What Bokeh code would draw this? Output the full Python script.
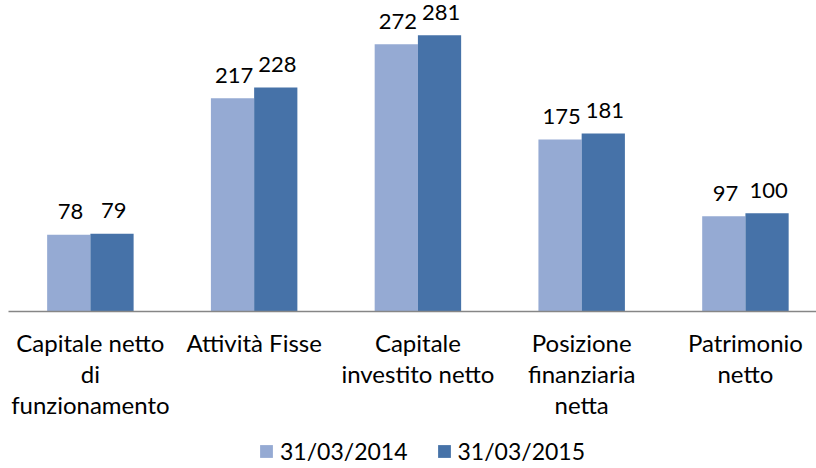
from bokeh.plotting import figure
from bokeh.models import ColumnDataSource, FixedTicker, Legend, LegendItem, Range1d
from bokeh.layouts import column
from bokeh.transform import dodge
from bokeh.core.properties import value
from bokeh.embed import file_html
from bokeh.resources import INLINE

categories = ["Capitale netto\ndi\nfunzionamento", "Attività Fisse", "Capitale\ninvestito netto",
              "Posizione\nfinanziaria\nnetta", "Patrimonio\nnetto"]
series_names = ["31/03/2014", "31/03/2015"]
values_2014 = [78, 217, 272, 175, 97]
values_2015 = [79, 228, 281, 181, 100]

FONT = "Lato"
C1 = "#95AAD3"
C2 = "#4672A8"

idx = list(range(len(categories)))
src = ColumnDataSource(dict(
    x=idx, v1=values_2014, v2=values_2015,
    t1=[str(v) for v in values_2014], t2=[str(v) for v in values_2015]))

p = figure(width=816, height=420, frame_width=808, frame_height=311,
           output_backend="svg", toolbar_location=None,
           x_range=Range1d(-0.5, 4.434), y_range=Range1d(0, 316.4),
           min_border_left=8, min_border_right=0, min_border_top=0, min_border_bottom=0)
p.outline_line_color = None
p.xgrid.visible = False
p.ygrid.visible = False
p.yaxis.visible = False

bw = 0.264
p.vbar(x=dodge("x", -bw / 2, range=p.x_range), top="v1", width=bw, source=src,
       fill_color=C1, line_color=None)
p.vbar(x=dodge("x", bw / 2, range=p.x_range), top="v2", width=bw, source=src,
       fill_color=C2, line_color=None)

p.text(x=dodge("x", -bw / 2 + 0.01, range=p.x_range), y="v1", text="t1", source=src,
       text_font=value(FONT), text_font_size="22px", text_align="center",
       text_baseline="alphabetic", y_offset=-23, text_color="#000000")
p.text(x=dodge("x", bw / 2 + 0.01, range=p.x_range), y="v2", text="t2", source=src,
       text_font=value(FONT), text_font_size="22px", text_align="center",
       text_baseline="alphabetic", y_offset=-23, text_color="#000000")

ax = p.xaxis[0]
ax.ticker = FixedTicker(ticks=idx)
ax.major_label_overrides = {i: c for i, c in enumerate(categories)}
ax.major_tick_line_color = None
ax.minor_tick_line_color = None
ax.axis_line_color = "#868686"
ax.axis_line_width = 1.5
ax.major_label_text_font = FONT
ax.major_label_text_font_size = "24px"
ax.major_label_text_color = "#000000"
ax.major_label_text_line_height = 1.08
ax.major_label_standoff = 10

lf = figure(width=816, height=48, output_backend="svg", toolbar_location=None,
            x_range=Range1d(0, 1), y_range=Range1d(0, 1),
            x_axis_location=None, y_axis_location=None,
            min_border_left=0, min_border_right=0, min_border_top=0, min_border_bottom=0)
lf.outline_line_color = None
lf.xgrid.visible = False
lf.ygrid.visible = False
lr1 = lf.vbar(x=[-5], top=[-5], width=0.1, fill_color=C1, line_color=None)
lr2 = lf.vbar(x=[-5], top=[-5], width=0.1, fill_color=C2, line_color=None)

legend = Legend(items=[LegendItem(label=series_names[0], renderers=[lr1]),
                       LegendItem(label=series_names[1], renderers=[lr2])],
                orientation="horizontal", location=(250, 5),
                label_text_font=FONT, label_text_font_size="23px",
                label_text_color="#000000",
                glyph_width=16, glyph_height=16, label_standoff=6, spacing=28,
                border_line_color=None, background_fill_alpha=0,
                padding=0, margin=0)
lf.add_layout(legend)

layout = column(p, lf, spacing=0)
open("out.html", "w").write(file_html(layout, INLINE))
